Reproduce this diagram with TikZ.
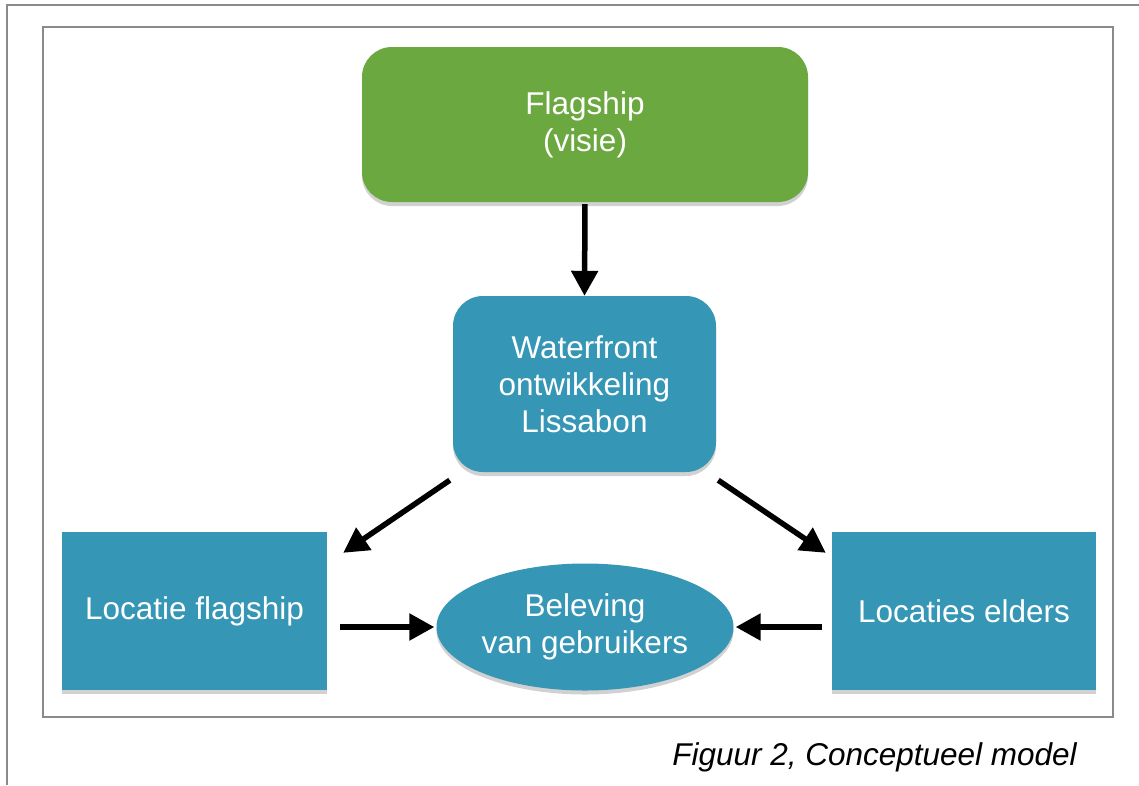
\documentclass[tikz,border=0pt]{standalone}
\usepackage{fontspec}
\setmainfont{Liberation Sans}
\usetikzlibrary{arrows.meta,shapes.geometric,shadows,calc}
\definecolor{boxgreen}{RGB}{108,168,64}
\definecolor{boxblue}{RGB}{54,150,182}
\definecolor{framegray}{RGB}{138,138,138}
\begin{document}
\begin{tikzpicture}[x=1pt,y=-1pt,
  lbl/.style={text=white,font=\fontsize{31.5}{37}\selectfont,align=center,inner sep=0pt},
  shad/.style={drop shadow={shadow xshift=0pt,shadow yshift=-4pt,opacity=0.18,fill=black}},
  roundbox/.style={lbl,shad,rounded corners=30pt,minimum width=#1},
  sqbox/.style={lbl,shad,fill=boxblue,minimum width=265pt,minimum height=158pt},
  arr/.style={line width=5.5pt,-{Triangle[length=25pt,width=26pt]}}]
\useasboundingbox (0,0) rectangle (1139,785);
\fill[white] (0,0) rectangle (1139,785);
% outer frame (partial)
\draw[framegray,line width=2.5pt] (7,785) -- (7,5) -- (1139,5);
% inner frame
\draw[framegray,line width=2.5pt,fill=white] (43,27) rectangle (1113,717);
% nodes
\node[roundbox=446pt,fill=boxgreen,minimum height=155pt] (flag) at (585,124.5) {Flagship\\(visie)};
\node[roundbox=263pt,fill=boxblue,minimum height=176pt] (water) at (584.5,384) {Waterfront\\ontwikkeling\\Lissabon};
\node[sqbox] (locf) at (194.5,611) {Locatie flagship};
\node[sqbox,minimum width=264pt] (loce) at (964,611) {Locaties elders};
\node[lbl,shad,ellipse,fill=boxblue,minimum width=297pt,minimum height=127pt] (bel) at (585,627) {Beleving\\van gebruikers};
% connectors
\draw[arr,shorten <=2pt,shorten >=0pt] (flag.south) -- (water.north);
\draw[arr] ($(water.south west)+(-3,8)$) -- ($(locf.north east)+(16,21)$);
\draw[arr] ($(water.south east)+(2,8)$) -- ($(loce.north west)+(-6,21)$);
\draw[arr,shorten <=13pt,shorten >=2pt] (locf.east |- bel.west) -- (bel.west);
\draw[arr,shorten <=10pt,shorten >=2pt] (loce.west |- bel.east) -- (bel.east);
% caption
\node[anchor=base east,inner sep=0pt,font=\fontsize{31.5}{37}\selectfont\itshape] (cap) at (1077,765) {Figuur 2, Conceptueel model};
\end{tikzpicture}
\end{document}
